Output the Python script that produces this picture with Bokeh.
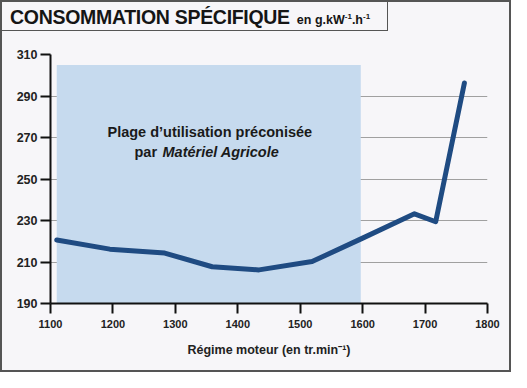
from bokeh.plotting import figure
from bokeh.models import Label, FixedTicker, Range1d, Div
from bokeh.layouts import column
from bokeh.embed import file_html
from bokeh.resources import INLINE

# Data
rpm = [1110, 1195, 1283, 1359, 1434, 1519, 1600, 1683, 1717, 1763]
conso = [220.6, 216.2, 214.3, 207.7, 206.2, 210.2, 221.5, 233.2, 229.4, 296.3]
zone_start, zone_end, zone_bottom, zone_top = 1110, 1597, 190, 305
x_ticks = [1100, 1200, 1300, 1400, 1500, 1600, 1700, 1800]
y_ticks = [190, 210, 230, 250, 270, 290, 310]

BG = "#f7f6f9"
FONT = "Liberation Sans"
INK = "#151515"

p = figure(width=507, height=339, output_backend="svg", toolbar_location=None,
           x_range=Range1d(1100, 1800), y_range=Range1d(190, 310),
           min_border_left=48, min_border_top=23, min_border_right=22, min_border_bottom=67,
           background_fill_color=BG, border_fill_color=BG)
p.outline_line_color = None

# Recommended zone
p.quad(left=[zone_start], right=[zone_end], bottom=[zone_bottom], top=[zone_top],
       fill_color="#c6daee", line_color=None)

p.line(rpm, conso, line_color="#1f4b82", line_width=5, line_join="round", line_cap="round")

for ax, ticks in ((p.xaxis, x_ticks), (p.yaxis, y_ticks)):
    ax.ticker = FixedTicker(ticks=ticks)
    ax.axis_line_color = "#111111"
    ax.axis_line_width = 2
    ax.major_tick_line_color = "#111111"
    ax.major_tick_line_width = 2
    ax.major_tick_out = 10
    ax.major_tick_in = 0
    ax.minor_tick_line_color = None
    ax.major_label_text_font = FONT
    ax.major_label_text_font_style = "bold"
    ax.major_label_text_color = "#222222"

p.yaxis.major_label_text_font_size = "12.5px"
p.yaxis.major_label_standoff = 3
p.xaxis.major_label_text_font_size = "11px"
p.xaxis.major_label_standoff = 6
p.xaxis.axis_label = "Régime moteur (en tr.min⁻¹)"
p.xaxis.axis_label_text_font = FONT
p.xaxis.axis_label_text_font_style = "bold"
p.xaxis.axis_label_text_font_size = "12.5px"
p.xaxis.axis_label_text_color = "#222222"
p.xaxis.axis_label_standoff = 12

p.xgrid.grid_line_color = None
p.ygrid.grid_line_color = "#a0a0a0"
p.ygrid.grid_line_width = 1

CU = dict(x_units="canvas", y_units="canvas")
TXT = dict(text_font=FONT, text_font_size="14.5px", text_color="#1a1a1a",
           text_baseline="alphabetic")
p.add_layout(Label(x=105, y=100, **CU, text="Plage d’utilisation préconisée",
                   text_font_style="bold", **TXT))
p.add_layout(Label(x=132, y=120, **CU, text="par", text_font_style="bold", **TXT))
p.add_layout(Label(x=160, y=120, **CU, text="Matériel Agricole",
                   text_font_style="bold italic", **TXT))

title = Div(
    text=(f'<div style="font-family:\'{FONT}\';font-weight:bold;color:{INK};'
          'white-space:nowrap;line-height:23px">'
          '<span style="font-size:19.5px;letter-spacing:-0.3px">CONSOMMATION SPÉCIFIQUE</span>'
          '<span style="font-size:12.5px;margin-left:7px">en g.kW<sup style="font-size:8px">-1</sup>'
          '.h<sup style="font-size:8px">-1</sup></span></div>'),
    width=386, height=29,
    styles={"background-color": BG, "border-right": "1.5px solid #555555",
            "border-bottom": "1.5px solid #555555", "box-sizing": "border-box",
            "padding-left": "8px", "padding-top": "3px", "margin": "0"})

layout = column(title, p, spacing=0,
                styles={"border": "2px solid #555555", "background-color": BG})

open("out.html", "w").write(file_html(layout, INLINE))
